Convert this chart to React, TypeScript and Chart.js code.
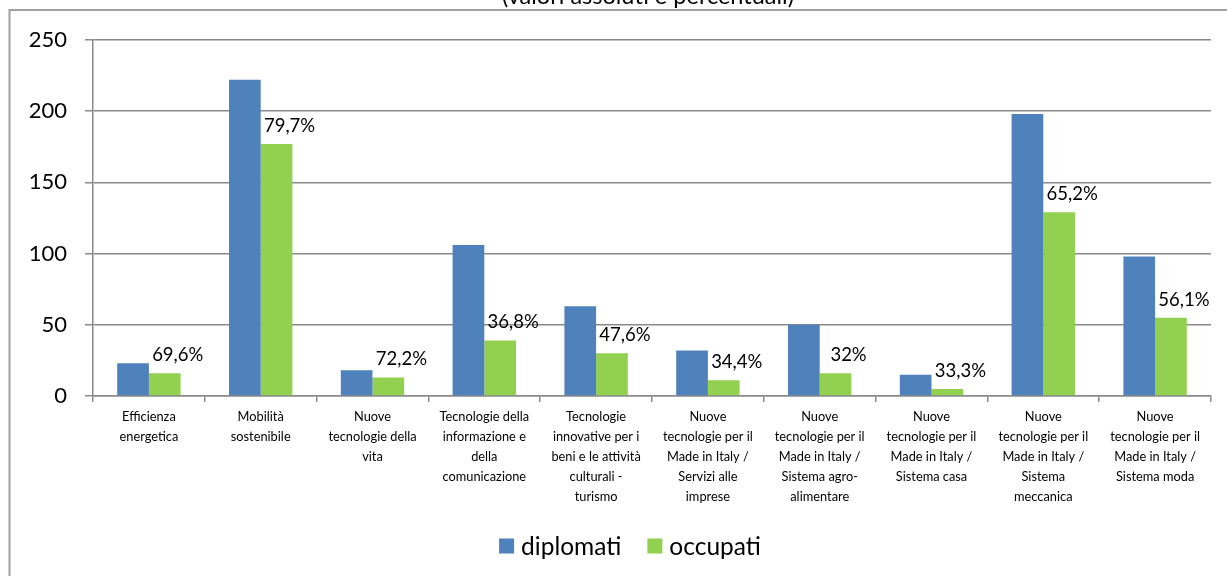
import { useEffect, useRef } from "react";
import { Chart, registerables } from "chart.js";

Chart.register(...registerables);

// Indirizzi tecnologici (etichette su più righe)
const categorie: string[][] = [
  ["Efficienza", "energetica"],
  ["Mobilità", "sostenibile"],
  ["Nuove", "tecnologie della", "vita"],
  ["Tecnologie della", "informazione e", "della", "comunicazione"],
  ["Tecnologie", "innovative per i", "beni e le attività", "culturali -", "turismo"],
  ["Nuove", "tecnologie per il", "Made in Italy /", "Servizi alle", "imprese"],
  ["Nuove", "tecnologie per il", "Made in Italy /", "Sistema agro-", "alimentare"],
  ["Nuove", "tecnologie per il", "Made in Italy /", "Sistema casa"],
  ["Nuove", "tecnologie per il", "Made in Italy /", "Sistema", "meccanica"],
  ["Nuove", "tecnologie per il", "Made in Italy /", "Sistema moda"],
];

const diplomati = [23, 222, 18, 106, 63, 32, 50, 15, 198, 98];
const occupati = [16, 177, 13, 39, 30, 11, 16, 5, 129, 55];

const serie = ["diplomati", "occupati"];
const yMin = 0;
const yMax = 250;
const yStep = 50;
const titolo = "(valori assoluti e percentuali)";

const BLU = "#4F81BD";
const VERDE = "#92D050";
const GRIGLIA = "#8a8a8a";
const FONT = "Lato, 'Open Sans', sans-serif";

// quota di occupati sui diplomati, con virgola decimale
function percentuale(i: number): string {
  const v = (occupati[i] / diplomati[i]) * 100;
  let s = v.toFixed(1);
  if (s.endsWith(".0")) s = s.slice(0, -2);
  return s.replace(".", ",") + "%";
}

const cornice = {
  id: "cornice",
  beforeDraw(chart: any) {
    const { ctx, width, height } = chart;
    ctx.save();
    ctx.fillStyle = "#ffffff";
    ctx.fillRect(0, 0, width, height);
    ctx.strokeStyle = "#a0a0a0";
    ctx.lineWidth = 2;
    ctx.beginPath();
    ctx.moveTo(9.5, height + 2);
    ctx.lineTo(9.5, 10);
    ctx.lineTo(width + 2, 10);
    ctx.stroke();
    ctx.fillStyle = "#000";
    ctx.font = `23.5px ${FONT}`;
    ctx.textAlign = "center";
    ctx.textBaseline = "alphabetic";
    ctx.fillText(titolo, 648, 4);
    ctx.restore();
  },
};

const etichettePercentuali = {
  id: "etichettePercentuali",
  afterDatasetsDraw(chart: any) {
    const { ctx } = chart;
    const meta = chart.getDatasetMeta(1);
    ctx.save();
    ctx.fillStyle = "#000";
    ctx.font = `18.5px ${FONT}`;
    ctx.textAlign = "center";
    ctx.textBaseline = "middle";
    meta.data.forEach((bar: any, i: number) => {
      ctx.fillText(percentuale(i), bar.x + 13, bar.y - 18);
    });
    ctx.restore();
  },
};

const legenda = {
  id: "legenda",
  afterDraw(chart: any) {
    const { ctx } = chart;
    const colori = [BLU, VERDE];
    const box = 15;
    const gap = 7;
    const spazio = 26;
    ctx.save();
    ctx.font = `24.5px ${FONT}`;
    const larghezze = serie.map((s) => ctx.measureText(s).width);
    const totale =
      larghezze.reduce((a, w) => a + box + gap + w, 0) + spazio * (serie.length - 1);
    let x = 630 - totale / 2;
    const yc = 546;
    serie.forEach((s, i) => {
      ctx.fillStyle = colori[i];
      ctx.fillRect(x, yc - box / 2, box, box);
      ctx.fillStyle = "#000";
      ctx.textAlign = "left";
      ctx.textBaseline = "middle";
      ctx.fillText(s, x + box + gap, yc + 1);
      x += box + gap + larghezze[i] + spazio;
    });
    ctx.restore();
  },
};

export default function App() {
  const ref = useRef<HTMLCanvasElement>(null);

  useEffect(() => {
    if (!ref.current) return;
    const chart = new Chart(ref.current, {
      type: "bar",
      data: {
        labels: categorie,
        datasets: [
          { label: serie[0], data: diplomati, backgroundColor: BLU },
          { label: serie[1], data: occupati, backgroundColor: VERDE },
        ],
      },
      options: {
        responsive: false,
        animation: false,
        devicePixelRatio: 1,
        layout: { padding: { top: 40, left: 0, right: 16, bottom: 0 } },
        datasets: { bar: { barPercentage: 1, categoryPercentage: 0.567 } },
        plugins: {
          legend: { display: false },
          title: { display: false },
          tooltip: { enabled: false },
        },
        scales: {
          x: {
            offset: true,
            grid: {
              display: true,
              drawOnChartArea: false,
              drawTicks: true,
              tickLength: 6,
              offset: true,
              color: GRIGLIA,
              lineWidth: 1.5,
            },
            border: { display: true, color: GRIGLIA, width: 1.5 },
            ticks: {
              color: "#000",
              font: { family: FONT, size: 12.8, lineHeight: 1.56 },
              padding: 5,
              maxRotation: 0,
              autoSkip: false,
            },
            afterFit(scale: any) {
              scale.height = 180;
            },
          },
          y: {
            min: yMin,
            max: yMax,
            grid: {
              color: GRIGLIA,
              lineWidth: 1.5,
              tickLength: 8,
            },
            border: { display: true, color: GRIGLIA, width: 1.5 },
            ticks: {
              stepSize: yStep,
              color: "#000",
              font: { family: FONT, size: 22 },
              padding: 18,
            },
            afterFit(scale: any) {
              scale.width = 93;
            },
          },
        },
      },
      plugins: [cornice, etichettePercentuali, legenda],
    });
    return () => chart.destroy();
  }, []);

  return (
    <div style={{ position: "fixed", left: 0, top: 0, width: 1227, height: 576 }}>
      <canvas ref={ref} width={1227} height={576} />
    </div>
  );
}
